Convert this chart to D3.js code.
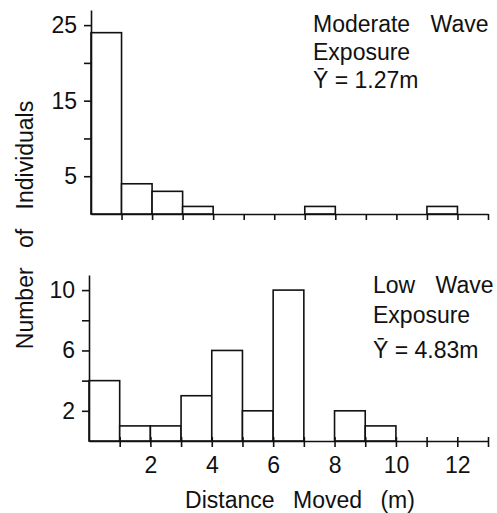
<!DOCTYPE html>
<html>
<head>
<meta charset="utf-8">
<script src="https://cdn.jsdelivr.net/npm/d3@7"></script>
<style>
  body { margin: 0; background: #fff; }
  text { font-family: "Liberation Sans", Arial, sans-serif; fill: #111; }
</style>
</head>
<body>
<svg id="chart" width="497" height="513"></svg>
<script>
// bins are 1 m wide, starting at these distances
const binStarts = [0, 1, 2, 3, 4, 5, 6, 7, 8, 9, 10, 11, 12];
const moderateCounts = [24, 4, 3, 1, 0, 0, 0, 1, 0, 0, 0, 1, 0];
const lowCounts = [4, 1, 1, 3, 6, 2, 10, 0, 2, 1, 0, 0, 0];

const moderateTicks = [5, 10, 15, 20, 25];
const moderateLabels = [5, 15, 25];
const lowTicks = [2, 4, 6, 8, 10];
const lowLabels = [2, 6, 10];
const distanceTicks = [1, 2, 3, 4, 5, 6, 7, 8, 9, 10, 11, 12, 13];
const distanceLabels = [2, 4, 6, 8, 10, 12];

const moderateNote = ['Moderate Wave', 'Exposure', 'Ȳ = 1.27m'];
const lowNote = ['Low Wave', 'Exposure', 'Ȳ = 4.83m'];

const svg = d3.select('#chart');
const ink = '#111';

const panels = [
  {
    counts: moderateCounts, yMax: 27, yTicks: moderateTicks, yLabels: moderateLabels,
    xRange: [91, 488], yRange: [214, 10], showX: false,
    note: moderateNote, noteX: 313, noteY: [32, 60, 88]
  },
  {
    counts: lowCounts, yMax: 11, yTicks: lowTicks, yLabels: lowLabels,
    xRange: [89, 488], yRange: [441, 275], showX: true,
    note: lowNote, noteX: 373, noteY: [293, 323, 358]
  }
];

panels.forEach(p => {
  const x = d3.scaleLinear().domain([0, 13]).range(p.xRange);
  const y = d3.scaleLinear().domain([0, p.yMax]).range(p.yRange);

  const bins = binStarts.map((s, i) => ({ start: s, count: p.counts[i] }))
    .filter(d => d.count > 0);

  svg.append('g')
    .selectAll('rect')
    .data(bins)
    .enter()
    .append('rect')
    .attr('x', d => x(d.start))
    .attr('width', d => x(d.start + 1) - x(d.start))
    .attr('y', d => y(d.count))
    .attr('height', d => y(0) - y(d.count))
    .attr('fill', '#fff')
    .attr('stroke', ink)
    .attr('stroke-width', 1.6);

  const xAxis = d3.axisBottom(x)
    .tickValues(distanceTicks)
    .tickSize(6)
    .tickSizeOuter(0)
    .tickPadding(10)
    .tickFormat(d => p.showX && distanceLabels.includes(d) ? d : '');

  const gx = svg.append('g')
    .attr('transform', `translate(0, ${y(0)})`)
    .call(xAxis);
  if (p.showX) gx.selectAll('.tick line').attr('y1', -4);

  const yAxis = d3.axisLeft(y)
    .tickValues(p.yTicks)
    .tickSize(7)
    .tickPadding(7)
    .tickSizeOuter(0)
    .tickFormat(d => p.yLabels.includes(d) ? d : '');

  const gy = svg.append('g')
    .attr('transform', `translate(${x(0)}, 0)`)
    .call(yAxis);

  [gx, gy].forEach(g => {
    g.selectAll('path, line').attr('stroke', ink).attr('stroke-width', 1.6);
    g.selectAll('text').attr('font-size', 23).attr('fill', ink)
      .style('font-family', '"Liberation Sans", Arial, sans-serif');
  });

  svg.append('g')
    .selectAll('text')
    .data(p.note)
    .enter()
    .append('text')
    .attr('x', p.noteX)
    .attr('y', (d, i) => p.noteY[i])
    .attr('font-size', 23)
    .attr('word-spacing', d => d.startsWith('Ȳ') ? 0 : 14)
    .text(d => d);
});

// axis titles
svg.append('text')
  .attr('transform', 'translate(33, 225) rotate(-90)')
  .attr('text-anchor', 'middle')
  .attr('font-size', 23)
  .attr('word-spacing', 13)
  .text('Number of Individuals');

svg.append('text')
  .attr('x', 300)
  .attr('y', 508)
  .attr('text-anchor', 'middle')
  .attr('font-size', 23)
  .attr('word-spacing', 12)
  .text('Distance Moved (m)');
</script>
</body>
</html>
